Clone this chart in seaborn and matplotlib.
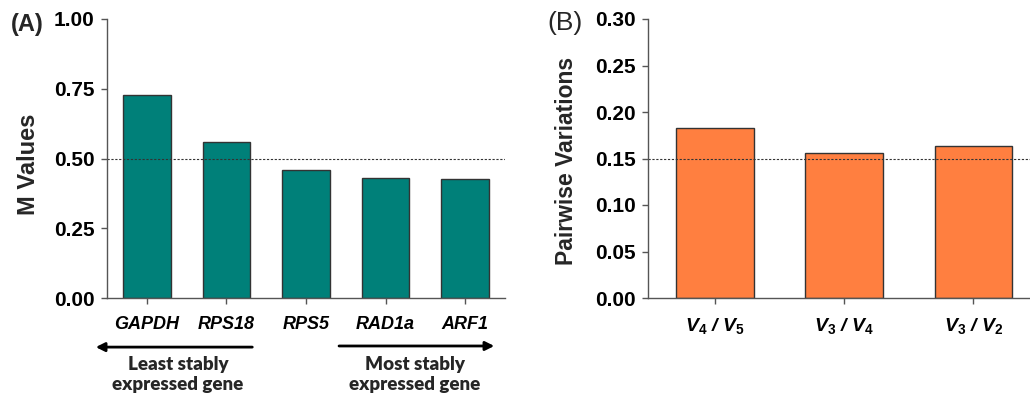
import matplotlib
matplotlib.use("Agg")
import matplotlib.pyplot as plt
import seaborn as sns
import pandas as pd

# panel A data
genes = ["GAPDH", "RPS18", "RPS5", "RAD1a", "ARF1"]
m_values = [0.727, 0.559, 0.459, 0.431, 0.425]

# panel B data
pairs = [r"$V_4$ / $V_5$", r"$V_3$ / $V_4$", r"$V_3$ / $V_2$"]
pairwise = [0.183, 0.156, 0.163]

sns.set_style("ticks")
plt.rcParams["font.family"] = ["Liberation Sans", "DejaVu Sans"]
plt.rcParams["mathtext.fontset"] = "custom"
plt.rcParams["mathtext.it"] = "Liberation Sans:italic:bold"
plt.rcParams["mathtext.rm"] = "Liberation Sans:bold"

teal = "#008079"
orange = "#FF7F40"
edge = "#333333"
axcol = "#555555"

fig = plt.figure(figsize=(10.3, 3.99), dpi=100)
axA = fig.add_axes([107 / 1030, 1 - 298 / 399, 398 / 1030, 279 / 399])
axB = fig.add_axes([648 / 1030, 1 - 298 / 399, 382 / 1030, 279 / 399])

dfA = pd.DataFrame({"gene": genes, "M": m_values})
sns.barplot(data=dfA, x="gene", y="M", color=teal, saturation=1, width=0.6,
            edgecolor=edge, linewidth=1, ax=axA)
dfB = pd.DataFrame({"pair": pairs, "V": pairwise})
sns.barplot(data=dfB, x="pair", y="V", color=orange, saturation=1, width=0.6,
            edgecolor=edge, linewidth=1, ax=axB)

for ax in (axA, axB):
    for s in ["top", "right"]:
        ax.spines[s].set_visible(False)
    for s in ["left", "bottom"]:
        ax.spines[s].set_color(axcol)
        ax.spines[s].set_linewidth(1)
    ax.tick_params(axis="both", colors=axcol, length=4, width=1)
    ax.tick_params(axis="y", pad=5, labelcolor="black")
    ax.tick_params(axis="x", pad=9, labelcolor="black")
    ax.set_xlabel("")

axA.set_xlim(-0.5, 4.5)
axA.set_ylim(0, 1.0)
axA.set_yticks([0, 0.25, 0.5, 0.75, 1.0])
axA.set_yticklabels(["0.00", "0.25", "0.50", "0.75", "1.00"], fontsize=15, fontweight="bold")
axA.set_xticks(range(len(genes)))
axA.set_xticklabels(genes, fontsize=13, fontweight="bold", fontstyle="italic")
axA.axhline(0.5, color="#333333", linestyle=(0, (2, 1.5)), linewidth=0.8)
axA.set_ylabel("M Values", fontsize=17, fontweight="bold")
axA.yaxis.set_label_coords(-0.168, 0.48)

axB.set_xlim(-0.52, 2.44)
axB.set_ylim(0, 0.30)
axB.set_yticks([0, 0.05, 0.10, 0.15, 0.20, 0.25, 0.30])
axB.set_yticklabels(["0.00", "0.05", "0.10", "0.15", "0.20", "0.25", "0.30"],
                    fontsize=15, fontweight="bold")
axB.set_xticks(range(len(pairs)))
axB.set_xticklabels(pairs, fontsize=14, fontweight="bold", fontstyle="italic")
axB.axhline(0.15, color="#333333", linestyle=(0, (2, 1.5)), linewidth=0.8)
axB.set_ylabel("Pairwise Variations", fontsize=16.5, fontweight="bold")
axB.yaxis.set_label_coords(-0.183, 0.49)

# direction arrows under panel A
tr = axA.get_xaxis_transform()
axA.annotate("", xy=(-0.676, -0.176), xytext=(1.36, -0.176), xycoords=tr,
             textcoords=tr, annotation_clip=False,
             arrowprops=dict(arrowstyle="-|>", color="black", lw=2, mutation_scale=13))
axA.annotate("", xy=(4.40, -0.172), xytext=(2.38, -0.172), xycoords=tr,
             textcoords=tr, annotation_clip=False,
             arrowprops=dict(arrowstyle="-|>", color="black", lw=2, mutation_scale=13))
axA.text(0.39, -0.275, "Least stably\nexpressed gene", transform=tr, ha="center",
         va="center", fontsize=13.5, fontweight="heavy", family="Lato", linespacing=1.25)
axA.text(3.37, -0.275, "Most stably\nexpressed gene", transform=tr, ha="center",
         va="center", fontsize=13.5, fontweight="heavy", family="Lato", linespacing=1.25)

fig.text(27 / 1030, 1 - 24 / 399, "(A)", ha="center", va="center", fontsize=17, fontweight="bold")
fig.text(565 / 1030, 1 - 23 / 399, "(B)", ha="center", va="center", fontsize=19)

fig.savefig("out.png", dpi=100)
